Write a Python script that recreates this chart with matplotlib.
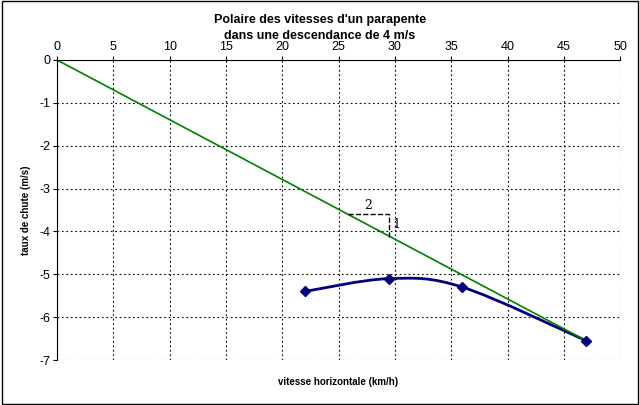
import matplotlib.pyplot as plt
from matplotlib.path import Path
from matplotlib.patches import PathPatch, Rectangle
import numpy as np

plt.rcParams['font.family'] = ['Liberation Sans', 'DejaVu Sans']
plt.rcParams['axes.unicode_minus'] = False

vitesse = [22, 29.5, 36, 47]
chute = [-5.4, -5.1, -5.3, -6.55]
finesse_x = [0, 47]
finesse_y = [0, -6.55]

fig = plt.figure(figsize=(6.4, 4.05), dpi=100)
fig.patches.append(Rectangle((0.003, 0.003), 0.994, 0.994, transform=fig.transFigure,
                             fill=False, edgecolor='black', linewidth=1))
ax = fig.add_axes([0.089, 0.111, 0.88, 0.741])
ax.set_xlim(0, 50)
ax.set_ylim(-7, 0)
ax.set_xticks(range(0, 51, 5))
ax.set_yticks(range(-7, 1))
ax.xaxis.tick_top()
ax.tick_params(labelsize=9, length=3, direction='out', pad=2)
ax.grid(True, color='black', linestyle=(0, (1.5, 2.5)), linewidth=0.8)
for s in ['right', 'bottom']:
    ax.spines[s].set_visible(False)

ax.plot(finesse_x, finesse_y, color='#008000', linewidth=1.2)

# smooth curve through the points (Catmull-Rom as Bezier)
pts = np.column_stack([vitesse, chute])
verts = [pts[0]]
codes = [Path.MOVETO]
for i in range(len(pts) - 1):
    p0 = pts[i - 1] if i > 0 else pts[i]
    p3 = pts[i + 2] if i + 2 < len(pts) else pts[i + 1]
    c1 = pts[i] + (pts[i + 1] - p0) / 6
    c2 = pts[i + 1] - (p3 - pts[i]) / 6
    verts += [c1, c2, pts[i + 1]]
    codes += [Path.CURVE4] * 3
ax.add_patch(PathPatch(Path(verts, codes), fill=False, edgecolor='#000080', linewidth=2))
ax.plot(vitesse, chute, linestyle='none', marker='D', color='#000080', markersize=5)

ax.plot([25.8, 29.5, 29.5], [-3.59, -3.59, -4.13], color='black', linestyle='--', linewidth=1)
ax.text(27.6, -3.55, '2', ha='center', va='bottom', fontsize=9, family='serif')
ax.text(29.8, -3.85, '1', ha='left', va='center', fontsize=9, family='serif')

ax.set_xlabel('vitesse horizontale (km/h)', fontsize=7, fontweight='bold', labelpad=12)
ax.set_ylabel('taux de chute (m/s)', fontsize=7, fontweight='bold', labelpad=6)
fig.suptitle("Polaire des vitesses d'un parapente\ndans une descendance de 4 m/s",
             fontsize=9, fontweight='bold', y=0.965, linespacing=1.4)

fig.savefig('out.png', dpi=100)
